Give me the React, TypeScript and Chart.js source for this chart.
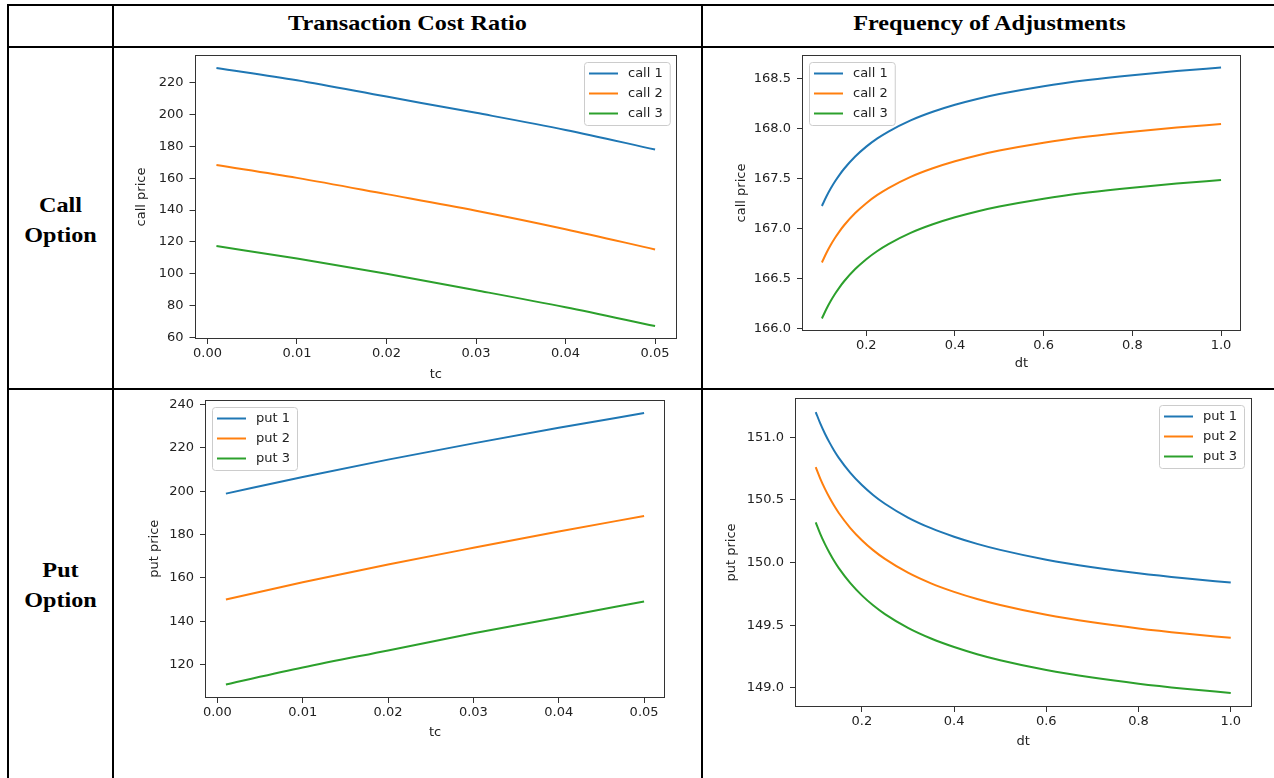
import React, { useEffect, useRef } from 'react';
import { Chart, registerables } from 'chart.js';

Chart.register(...registerables);

// ---------- data ----------
const TC_X = [0.001, 0.01, 0.02, 0.03, 0.04, 0.05];
const CALL_TC_1 = [229.2, 221.5, 211.2, 201.0, 190.3, 178.0];
const CALL_TC_2 = [168.3, 160.2, 150.0, 139.6, 128.0, 115.3];
const CALL_TC_3 = [117.4, 109.6, 100.0, 89.7, 79.0, 67.2];
const PUT_TC_1 = [198.9, 206.6, 214.6, 222.1, 229.3, 236.1];
const PUT_TC_2 = [150.0, 158.0, 166.2, 173.9, 181.4, 188.6];
const PUT_TC_3 = [110.8, 118.6, 126.5, 134.4, 141.7, 149.1];

const DT_X = [0.1, 0.11, 0.12, 0.13, 0.14, 0.15, 0.175, 0.2, 0.225, 0.25, 0.3, 0.35, 0.4, 0.45, 0.5, 0.6, 0.7, 0.8, 0.9, 1.0];
const CALL_DT_1 = [167.226, 167.32, 167.402, 167.475, 167.54, 167.598, 167.72, 167.819, 167.901, 167.97, 168.082, 168.168, 168.238, 168.296, 168.345, 168.424, 168.485, 168.534, 168.575, 168.61];
const CALL_DT_2 = [166.661, 166.755, 166.837, 166.91, 166.975, 167.033, 167.155, 167.254, 167.336, 167.405, 167.517, 167.603, 167.673, 167.731, 167.78, 167.859, 167.92, 167.969, 168.01, 168.045];
const CALL_DT_3 = [166.101, 166.195, 166.277, 166.35, 166.415, 166.473, 166.595, 166.694, 166.776, 166.845, 166.957, 167.043, 167.113, 167.171, 167.22, 167.299, 167.36, 167.409, 167.45, 167.485];
const PUT_DT_1 = [151.2, 151.107, 151.027, 150.956, 150.892, 150.835, 150.715, 150.618, 150.537, 150.469, 150.359, 150.274, 150.206, 150.149, 150.101, 150.023, 149.963, 149.914, 149.874, 149.84];
const PUT_DT_2 = [150.76, 150.667, 150.587, 150.516, 150.452, 150.395, 150.275, 150.178, 150.097, 150.029, 149.919, 149.834, 149.766, 149.709, 149.661, 149.583, 149.523, 149.474, 149.434, 149.4];
const PUT_DT_3 = [150.32, 150.227, 150.147, 150.076, 150.012, 149.955, 149.835, 149.738, 149.657, 149.589, 149.479, 149.394, 149.326, 149.269, 149.221, 149.143, 149.083, 149.034, 148.994, 148.96];

const TC_TICKS = [0, 0.01, 0.02, 0.03, 0.04, 0.05];
const DT_TICKS = [0.2, 0.4, 0.6, 0.8, 1.0];
const CALL_TC_YTICKS = [60, 80, 100, 120, 140, 160, 180, 200, 220];
const PUT_TC_YTICKS = [120, 140, 160, 180, 200, 220, 240];
const CALL_DT_YTICKS = [166.0, 166.5, 167.0, 167.5, 168.0, 168.5];
const PUT_DT_YTICKS = [149.0, 149.5, 150.0, 150.5, 151.0];

const CALL_LABELS = ['call 1', 'call 2', 'call 3'];
const PUT_LABELS = ['put 1', 'put 2', 'put 3'];
const HEADERS = ['Transaction Cost Ratio', 'Frequency of Adjustments'];
const ROW_LABELS = [['Call', 'Option'], ['Put', 'Option']];

const COLORS = ['#1f77b4', '#ff7f0e', '#2ca02c'];
const FONT = 'DejaVu Sans';
const FS = 13;
const LH = FS * 1.2;
const TEXT = '#222222';
const SERIF = "'Liberation Serif', 'Times New Roman', serif";

// matplotlib-like 5% margins
function padRange(vals: number[]): [number, number] {
  const mn = Math.min(...vals);
  const mx = Math.max(...vals);
  const d = (mx - mn) * 0.05;
  return [mn - d, mx + d];
}

const framePlugin = {
  id: 'mplFrame',
  afterDatasetsDraw(chart: any) {
    const { ctx, chartArea: a } = chart;
    ctx.save();
    ctx.strokeStyle = '#333333';
    ctx.lineWidth = 1;
    const l = Math.round(a.left) + 0.5;
    const t = Math.round(a.top) + 0.5;
    const r = Math.round(a.right) - 0.5;
    const b = Math.round(a.bottom) - 0.5;
    ctx.strokeRect(l, t, r - l, b - t);
    ctx.restore();
  },
};

const legendPlugin = {
  id: 'mplLegend',
  afterDraw(chart: any, _args: any, opts: any) {
    const { ctx, chartArea: a } = chart;
    const ds = chart.data.datasets;
    ctx.save();
    ctx.font = `${FS}px "${FONT}"`;
    const tw = Math.max(...ds.map((d: any) => ctx.measureText(d.label).width));
    const w = 44 + tw + 7;
    const h = 63;
    const x = Math.round(opts.corner === 'ne' ? a.right - 7.5 - w : a.left + 7);
    const y = Math.round(a.top + 7);
    ctx.beginPath();
    (ctx as any).roundRect(x + 0.5, y + 0.5, w, h, 3);
    ctx.fillStyle = 'rgba(255,255,255,0.8)';
    ctx.fill();
    ctx.strokeStyle = '#cccccc';
    ctx.lineWidth = 1;
    ctx.stroke();
    ds.forEach((d: any, i: number) => {
      const cy = y + 11.5 + i * 20;
      ctx.beginPath();
      ctx.moveTo(x + 5, cy);
      ctx.lineTo(x + 34, cy);
      ctx.strokeStyle = d.borderColor;
      ctx.lineWidth = 2;
      ctx.stroke();
      ctx.fillStyle = TEXT;
      ctx.textBaseline = 'middle';
      ctx.textAlign = 'left';
      ctx.fillText(d.label, x + 44, cy);
    });
    ctx.restore();
  },
};

type Spec = {
  xs: number[];
  series: number[][];
  labels: string[];
  xTicks: number[];
  yTicks: number[];
  xDigits: number;
  yDigits: number;
  xTitle: string;
  yTitle: string;
  frame: { l: number; t: number; r: number; b: number };
  yTitleX: number;
  xTitleY: number;
  corner: 'ne' | 'nw';
};

function MplChart({ spec }: { spec: Spec }) {
  const ref = useRef<HTMLCanvasElement>(null);
  const { frame } = spec;
  const cx = Math.floor(frame.l - 90);
  const cy = Math.floor(frame.t - 20);
  const cr = Math.min(1274, Math.ceil(frame.r + 20));
  const cb = Math.min(778, Math.ceil(frame.b + 50));
  const cw = cr - cx;
  const ch = cb - cy;

  useEffect(() => {
    const padT = frame.t - cy;
    const padR = cr - frame.r;
    const yW = frame.l - cx;
    const xH = cb - frame.b;
    const yTitlePad = spec.yTitleX - cx - LH / 2;
    const xTitlePad = xH - (spec.xTitleY - frame.b) - LH / 2;
    const [xmin, xmax] = padRange(spec.xs);
    const [ymin, ymax] = padRange(spec.series.flat());
    const font = { family: FONT, size: FS };
    const chart = new Chart(ref.current as HTMLCanvasElement, {
      type: 'line',
      data: {
        datasets: spec.series.map((ys, i) => ({
          label: spec.labels[i],
          data: spec.xs.map((x, j) => ({ x, y: ys[j] })),
          borderColor: COLORS[i],
          backgroundColor: COLORS[i],
          borderWidth: 2,
          pointRadius: 0,
          fill: false,
          cubicInterpolationMode: 'monotone',
        })),
      },
      options: {
        responsive: false,
        animation: false,
        devicePixelRatio: 1,
        layout: { padding: { left: 0, top: padT, right: padR, bottom: 0 } },
        plugins: {
          legend: { display: false },
          tooltip: { enabled: false },
          mplLegend: { corner: spec.corner },
        } as any,
        scales: {
          x: {
            type: 'linear',
            min: xmin,
            max: xmax,
            afterBuildTicks: (s: any) => {
              s.ticks = spec.xTicks.map((v) => ({ value: v }));
            },
            afterFit: (s: any) => {
              s.height = xH;
            },
            ticks: {
              font,
              color: TEXT,
              padding: 2,
              maxRotation: 0,
              autoSkip: false,
              callback: (v: any) => Number(v).toFixed(spec.xDigits),
            },
            grid: { display: true, drawOnChartArea: false, drawTicks: true, tickLength: 5, color: '#333333', lineWidth: 1 },
            border: { display: false },
            title: { display: true, text: spec.xTitle, font, color: TEXT, padding: { top: 0, bottom: xTitlePad } },
          },
          y: {
            type: 'linear',
            min: ymin,
            max: ymax,
            afterBuildTicks: (s: any) => {
              s.ticks = spec.yTicks.map((v) => ({ value: v }));
            },
            afterFit: (s: any) => {
              s.width = yW;
            },
            ticks: {
              font,
              color: TEXT,
              padding: 6,
              autoSkip: false,
              callback: (v: any) => Number(v).toFixed(spec.yDigits),
            },
            grid: { display: true, drawOnChartArea: false, drawTicks: true, tickLength: 5, color: '#333333', lineWidth: 1 },
            border: { display: false },
            title: { display: true, text: spec.yTitle, font, color: TEXT, padding: { top: yTitlePad, bottom: 0 } },
          },
        },
      } as any,
      plugins: [framePlugin, legendPlugin],
    });
    return () => chart.destroy();
  }, []);

  return (
    <canvas
      ref={ref}
      width={cw}
      height={ch}
      style={{ position: 'absolute', left: cx, top: cy, width: cw, height: ch, zIndex: 1 }}
    />
  );
}

const SPECS: Spec[] = [
  {
    xs: TC_X, series: [CALL_TC_1, CALL_TC_2, CALL_TC_3], labels: CALL_LABELS,
    xTicks: TC_TICKS, yTicks: CALL_TC_YTICKS, xDigits: 2, yDigits: 0,
    xTitle: 'tc', yTitle: 'call price',
    frame: { l: 194.5, t: 55, r: 677, b: 339 }, yTitleX: 142, xTitleY: 375, corner: 'ne',
  },
  {
    xs: DT_X, series: [CALL_DT_1, CALL_DT_2, CALL_DT_3], labels: CALL_LABELS,
    xTicks: DT_TICKS, yTicks: CALL_DT_YTICKS, xDigits: 1, yDigits: 1,
    xTitle: 'dt', yTitle: 'call price',
    frame: { l: 802, t: 55, r: 1241, b: 331 }, yTitleX: 742, xTitleY: 364, corner: 'nw',
  },
  {
    xs: TC_X, series: [PUT_TC_1, PUT_TC_2, PUT_TC_3], labels: PUT_LABELS,
    xTicks: TC_TICKS, yTicks: PUT_TC_YTICKS, xDigits: 2, yDigits: 0,
    xTitle: 'tc', yTitle: 'put price',
    frame: { l: 205, t: 399.5, r: 665, b: 698 }, yTitleX: 155, xTitleY: 733, corner: 'nw',
  },
  {
    xs: DT_X, series: [PUT_DT_1, PUT_DT_2, PUT_DT_3], labels: PUT_LABELS,
    xTicks: DT_TICKS, yTicks: PUT_DT_YTICKS, xDigits: 1, yDigits: 1,
    xTitle: 'dt', yTitle: 'put price',
    frame: { l: 795, t: 398, r: 1251.5, b: 707 }, yTitleX: 732, xTitleY: 742, corner: 'ne',
  },
];

function Line({ left, top, width, height }: { left: number; top: number; width: number; height: number }) {
  return <div style={{ position: 'absolute', left, top, width, height, background: '#000', zIndex: 3 }} />;
}

export default function App() {
  const textStyle: React.CSSProperties = {
    position: 'absolute',
    fontFamily: SERIF,
    fontWeight: 'bold',
    fontSize: 22,
    color: '#000',
    textAlign: 'center',
    transform: 'scaleX(1.1)',
    whiteSpace: 'nowrap',
  };
  return (
    <div style={{ position: 'absolute', left: 0, top: 0, width: 1274, height: 778, overflow: 'hidden', background: '#fff' }}>
      {/* table rules */}
      <Line left={7} top={4} width={1280} height={2} />
      <Line left={7} top={46} width={1280} height={2} />
      <Line left={7} top={388} width={1280} height={2} />
      <Line left={7} top={4} width={2} height={800} />
      <Line left={112} top={4} width={2} height={800} />
      <Line left={701} top={4} width={2} height={800} />

      {/* headers */}
      <div style={{ ...textStyle, left: 114, width: 587, top: 11.6, lineHeight: '22px' }}>{HEADERS[0]}</div>
      <div style={{ ...textStyle, left: 703, width: 573, top: 11.6, lineHeight: '22px' }}>{HEADERS[1]}</div>

      {/* row labels */}
      <div style={{ ...textStyle, left: 9, width: 103, top: 190, lineHeight: '30px' }}>
        {ROW_LABELS[0][0]}
        <br />
        {ROW_LABELS[0][1]}
      </div>
      <div style={{ ...textStyle, left: 9, width: 103, top: 555, lineHeight: '30px' }}>
        {ROW_LABELS[1][0]}
        <br />
        {ROW_LABELS[1][1]}
      </div>

      {SPECS.map((s, i) => (
        <MplChart key={i} spec={s} />
      ))}
    </div>
  );
}
